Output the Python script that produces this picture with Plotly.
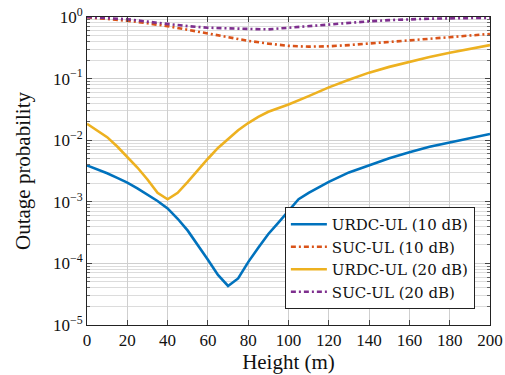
import plotly.graph_objects as go

x_fine = [0, 5, 10, 15, 20, 25, 30, 35, 40, 45, 50, 55, 60, 65, 70, 75, 80, 85, 90, 95, 100,
          105, 110, 120, 130, 140, 150, 160, 170, 180, 190, 200]
urdc_10 = [3.9e-3, 3.4e-3, 2.9e-3, 2.45e-3, 2.05e-3, 1.65e-3, 1.32e-3, 1.03e-3, 7.8e-4, 5.3e-4,
           3.4e-4, 2.0e-4, 1.15e-4, 6.5e-5, 4.3e-5, 5.7e-5, 1.05e-4, 1.8e-4, 3.0e-4, 4.6e-4, 7.2e-4,
           1.1e-3, 1.4e-3, 2.1e-3, 3.0e-3, 3.95e-3, 5.1e-3, 6.4e-3, 7.8e-3, 9.2e-3, 1.09e-2, 1.26e-2]

x_fine2 = [0, 5, 10, 15, 20, 25, 30, 35, 40, 45, 50, 55, 60, 65, 70, 75, 80, 85, 90, 95, 100,
           110, 120, 130, 140, 150, 160, 170, 180, 190, 200]
urdc_20 = [1.85e-2, 1.45e-2, 1.12e-2, 7.9e-3, 5.4e-3, 3.6e-3, 2.3e-3, 1.4e-3, 1.1e-3, 1.4e-3,
           2.1e-3, 3.3e-3, 5.0e-3, 7.5e-3, 1.05e-2, 1.45e-2, 1.9e-2, 2.4e-2, 2.9e-2, 3.3e-2, 3.8e-2,
           5.2e-2, 7.2e-2, 9.6e-2, 0.125, 0.155, 0.188, 0.225, 0.263, 0.305, 0.35]

x_coarse = [0, 10, 20, 30, 40, 50, 60, 70, 80, 90, 100, 110, 120, 130, 140, 150, 160, 170, 180, 190, 200]
suc_10 = [0.99, 0.93, 0.87, 0.79, 0.71, 0.62, 0.54, 0.47, 0.41, 0.37, 0.34, 0.33, 0.335, 0.35, 0.37,
          0.39, 0.41, 0.44, 0.47, 0.50, 0.53]
suc_20 = [1.0, 0.96, 0.92, 0.84, 0.77, 0.71, 0.67, 0.65, 0.64, 0.63, 0.67, 0.72, 0.77, 0.81, 0.85,
          0.89, 0.92, 0.94, 0.95, 0.96, 0.97]

y_tickvals = [1, 1e-1, 1e-2, 1e-3, 1e-4, 1e-5]
y_ticktext = ["10<sup>0</sup>", "10<sup>−1</sup>", "10<sup>−2</sup>", "10<sup>−3</sup>",
              "10<sup>−4</sup>", "10<sup>−5</sup>"]
x_tickvals = [0, 20, 40, 60, 80, 100, 120, 140, 160, 180, 200]

minor_vals = [m * 10 ** e for e in range(-5, 0) for m in range(2, 10)]

FONT = "Liberation Serif"

fig = go.Figure()
fig.add_trace(go.Scatter(x=x_fine, y=urdc_10, mode="lines", name="URDC-UL (10 dB)",
                         line=dict(color="#0072BD", width=2.6)))
fig.add_trace(go.Scatter(x=x_coarse, y=suc_10, mode="lines", name="SUC-UL (10 dB)",
                         line=dict(color="#D95319", width=2.6, dash="5px,3px,2px,3px")))
fig.add_trace(go.Scatter(x=x_fine2, y=urdc_20, mode="lines", name="URDC-UL (20 dB)",
                         line=dict(color="#EDB120", width=2.6)))
fig.add_trace(go.Scatter(x=x_coarse, y=suc_20, mode="lines", name="SUC-UL (20 dB)",
                         line=dict(color="#7E2F8E", width=2.6, dash="5px,3px,2px,3px")))

fig.update_layout(
    width=505, height=375,
    margin=dict(l=87, r=15, t=17, b=50, autoexpand=False),
    paper_bgcolor="white", plot_bgcolor="white",
    font=dict(family=FONT, size=17, color="#111111"),
    legend=dict(x=0.491, y=0.383, xanchor="left", yanchor="top",
                bgcolor="white", bordercolor="#222222", borderwidth=1,
                font=dict(family="DejaVu Serif", size=15), tracegroupgap=0, itemwidth=36),
    showlegend=True,
)
fig.update_xaxes(
    range=[0, 200], tickvals=x_tickvals, ticks="inside", ticklen=5, tickcolor="#444444",
    showline=True, linecolor="#222222", linewidth=1, mirror="ticks",
    showgrid=True, gridcolor="#cfcfcf", gridwidth=1, zeroline=False, automargin=False,
    title=dict(text="Height (m)", font=dict(family=FONT, size=21), standoff=4),
    tickfont=dict(family=FONT, size=17),
)
fig.update_yaxes(
    type="log", range=[-5, 0], tickvals=y_tickvals, ticktext=y_ticktext,
    ticks="inside", ticklen=5, tickcolor="#444444",
    showline=True, linecolor="#222222", linewidth=1, mirror="ticks",
    showgrid=True, gridcolor="#cfcfcf", gridwidth=1, zeroline=False, automargin=False,
    minor=dict(tickvals=minor_vals, ticks="inside", ticklen=3, tickcolor="#666666",
               showgrid=True, gridcolor="#dcdcdc", gridwidth=1),
    title=dict(text="Outage probability", font=dict(family=FONT, size=21), standoff=16),
    tickfont=dict(family=FONT, size=17),
)

fig.write_html("out.html")
